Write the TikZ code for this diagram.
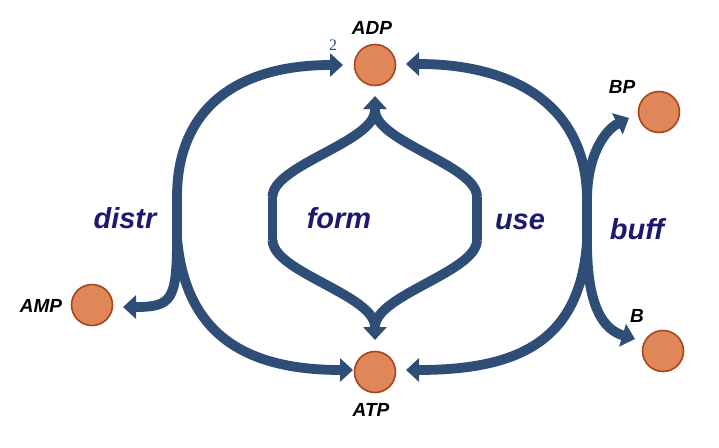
\documentclass[tikz,border=0pt]{standalone}
\usepackage{fontspec}
\setmainfont{Liberation Sans}
\newfontfamily\numfont{Liberation Serif}
\usetikzlibrary{arrows.meta}
\definecolor{flow}{RGB}{47,78,119}
\definecolor{lbl}{RGB}{28,26,110}
\definecolor{ballfill}{RGB}{224,135,90}
\definecolor{balledge}{RGB}{165,70,28}
\begin{document}
\begin{tikzpicture}[x=1pt,y=-1pt,
  ball/.style={circle,draw=balledge,fill=ballfill,line width=1.6pt,minimum size=41pt,inner sep=0pt},
  mol/.style={font=\fontsize{19}{22}\selectfont\bfseries\itshape,anchor=base,inner sep=0pt},
  proc/.style={font=\fontsize{29}{34}\selectfont\bfseries\itshape,text=lbl,anchor=base,inner sep=0pt},
  pipe/.style={draw=flow,line width=9.8pt},
  tip/.style={pipe,-{Triangle[length=13pt,width=23pt]}},
]
\useasboundingbox (0,0) rectangle (719,447);
% molecules
\node[ball] (adp) at (375,65) {};
\node[ball] (atp) at (375,372) {};
\node[ball] (bp) at (659,112) {};
\node[ball] (b) at (663,351) {};
\node[ball] (amp) at (92,305) {};
\node[mol] (adpl) at (372,34) {ADP};
\node[mol] (atpl) at (371,416) {ATP};
\node[mol] (bpl) at (622,93) {BP};
\node[mol] (bl) at (637,322) {B};
\node[mol] (ampl) at (41,312) {AMP};
\node[font=\numfont\fontsize{16}{18}\selectfont,text=flow,anchor=base,inner sep=0pt] (two) at (333,50) {2};
% process labels
\node[proc] (distr) at (125,228) {distr};
\node[proc] (form) at (339,228) {form};
\node[proc] (use) at (520,229) {use};
\node[proc] (buff) at (637,239) {buff};
% branch points
\coordinate (lt) at (177,197);
\coordinate (lb) at (177,238);
\coordinate (rt) at (587,200);
\coordinate (rb) at (587,242);
\coordinate (ft) at (272.5,197);
\coordinate (fb) at (272.5,240);
\coordinate (ut) at (477,197);
\coordinate (ub) at (477,240);
\coordinate (jt) at (375,110);
\coordinate (jb) at (375,327);
% arrow tips
\coordinate (adpW) at (343,65);
\coordinate (adpE) at (406,64);
\coordinate (adpS) at (375,96);
\coordinate (atpW) at (353,370);
\coordinate (atpE) at (406,370);
\coordinate (atpN) at (375,340);
\coordinate (bpT) at (629,118);
\coordinate (bT) at (635,339);
\coordinate (ampT) at (123,307);
% vertical segments
\draw[pipe] (lt) -- (lb);
\draw[pipe] (rt) -- (rb);
\draw[pipe] (ft) -- (fb);
\draw[pipe] (ut) -- (ub);
% distr
\draw[tip] (lt) .. controls (177,110) and (235,65) .. (adpW);
\draw[tip] (lb) .. controls (185,330) and (240,370) .. (atpW);
\draw[tip] (lb) .. controls (177,300) and (172,307) .. (ampT);
% form / use
\draw[pipe] (ft) .. controls (272.5,165) and (375,142) .. (jt);
\draw[pipe] (ut) .. controls (477,165) and (375,142) .. (jt);
\draw[pipe] (fb) .. controls (272.5,272) and (375,295) .. (jb);
\draw[pipe] (ub) .. controls (477,272) and (375,295) .. (jb);
\draw[tip] (375,112) -- (adpS);
\draw[tip] (375,325) -- (atpN);
% right loop
\draw[tip] (rt) .. controls (587,110) and (520,64) .. (adpE);
\draw[tip] (rt) .. controls (587,155) and (605,130) .. (bpT);
\draw[tip] (rb) .. controls (580,340) and (520,370) .. (atpE);
\draw[tip] (rb) .. controls (587,310) and (605,330) .. (bT);
\end{tikzpicture}
\end{document}
